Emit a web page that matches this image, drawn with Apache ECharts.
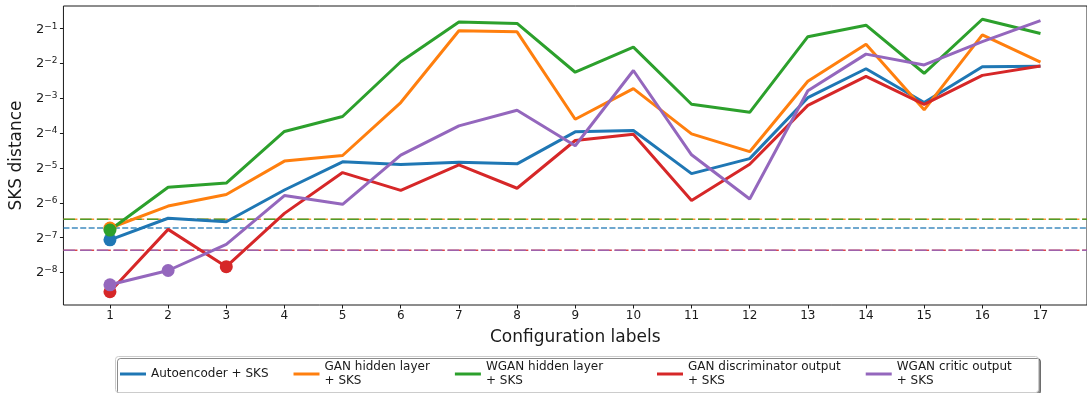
<!DOCTYPE html>
<html>
<head>
<meta charset="utf-8">
<script src="https://cdn.jsdelivr.net/npm/echarts@6/dist/echarts.min.js"></script>
<style>
  html, body { margin: 0; padding: 0; background: #fff; }
  #chart { width: 1087px; height: 393px; }
</style>
</head>
<body>
<div id="chart"></div>
<script>
// Configuration labels along the x axis
const configLabels = [1, 2, 3, 4, 5, 6, 7, 8, 9, 10, 11, 12, 13, 14, 15, 16, 17];

// SKS distance per configuration, one array per model
const autoencoderSKS = [0.007494, 0.011518, 0.010747, 0.020193, 0.035403, 0.033493, 0.035158, 0.03396, 0.064257, 0.066063, 0.02797, 0.037682, 0.126745, 0.225313, 0.115024, 0.23488, 0.236515];
const ganHiddenSKS = [0.009486, 0.01468, 0.018453, 0.035897, 0.040107, 0.115024, 0.47963, 0.46976, 0.082469, 0.151775, 0.061639, 0.043284, 0.175555, 0.36602, 0.099443, 0.44135, 0.257028];
const wganHiddenSKS = [0.009099, 0.021344, 0.023196, 0.064704, 0.087171, 0.258815, 0.57038, 0.55478, 0.210225, 0.346275, 0.111105, 0.094733, 0.42632, 0.53589, 0.205898, 0.60291, 0.45376];
const ganDiscSKS = [0.002668, 0.009226, 0.004395, 0.012691, 0.028557, 0.020053, 0.033261, 0.020905, 0.054033, 0.061214, 0.016402, 0.033725, 0.108819, 0.193445, 0.111105, 0.19751, 0.23816];
const wganCriticSKS = [0.003065, 0.004072, 0.006849, 0.018073, 0.015198, 0.040386, 0.072293, 0.098755, 0.048698, 0.217638, 0.040667, 0.016863, 0.14559, 0.301455, 0.243163, 0.38689, 0.58641];

// Reference levels (dashed horizontal lines)
const baselineAutoencoder = 0.009486;
const baselineGanHidden = 0.011281;
const baselineWganHidden = 0.011281;
const baselineGanDisc = 0.006087;
const baselineWganCritic = 0.006087;

const FONT = 'DejaVu Sans';
const INK = '#1a1a1a';
const X_MIN = 0.2;
const X_MAX = 17.8;

// tick labels as 2 with a raised exponent
function powLabel(v) {
  const e = Math.round(Math.log2(v));
  return '{b|2}{s|' + String(e).replace('-', '\u2212') + '}';
}

function dataSeries(name, values, baseline, color) {
  return {
    type: 'line',
    name: name,
    symbol: 'circle',
    symbolSize: 13,
    showSymbol: true,
    z: 3,
    data: values.map((v, i) => {
      const item = { value: [configLabels[i], v] };
      // points under the reference level get a dot
      if (!(v < baseline)) item.symbol = 'none';
      return item;
    }),
    lineStyle: { width: 3, color: color },
    itemStyle: { color: color, borderWidth: 0 },
    emphasis: { disabled: true }
  };
}

function levelSeries(level, color, dash) {
  return {
    type: 'line',
    name: 'level',
    symbol: 'none',
    silent: true,
    z: 2,
    data: [[X_MIN, level], [X_MAX, level]],
    lineStyle: { type: dash, width: 1.5, color: color, opacity: 0.85 },
    emphasis: { disabled: true }
  };
}

const names = [
  'Autoencoder + SKS',
  'GAN hidden layer\n+ SKS',
  'WGAN hidden layer\n+ SKS',
  'GAN discriminator output\n+ SKS',
  'WGAN critic output\n+ SKS'
];
const colors = ['#1f77b4', '#ff7f0e', '#2ca02c', '#d62728', '#9467bd'];

const legendCommon = {
  orient: 'horizontal',
  top: 360,
  padding: 0,
  itemGap: 25,
  itemWidth: 26,
  itemHeight: 3,
  icon: 'rect',
  textStyle: { fontFamily: FONT, fontSize: 12, color: INK, lineHeight: 14 },
  selectedMode: false
};

const chart = echarts.init(document.getElementById('chart'), null, { renderer: 'canvas' });
chart.setOption({
  animation: false,
  backgroundColor: '#fff',
  grid: {
    left: 61, top: 6, width: 1033, height: 299,
    show: true, borderColor: INK, borderWidth: 1, backgroundColor: 'transparent'
  },
  xAxis: {
    type: 'value',
    min: X_MIN,
    max: X_MAX,
    name: 'Configuration labels',
    nameLocation: 'middle',
    nameGap: 24,
    nameTextStyle: { fontFamily: FONT, fontSize: 17, color: INK },
    axisLine: { show: false },
    splitLine: { show: false },
    axisTick: { show: true, length: 3.5, inside: false, lineStyle: { color: INK }, customValues: configLabels },
    axisLabel: { fontFamily: FONT, fontSize: 12, color: INK, margin: 5, customValues: configLabels }
  },
  yAxis: {
    type: 'log',
    logBase: 2,
    min: 0.00205,
    max: 0.785,
    name: 'SKS distance',
    nameLocation: 'middle',
    nameGap: 31,
    nameTextStyle: { fontFamily: FONT, fontSize: 17, color: INK },
    axisLine: { show: false },
    splitLine: { show: false },
    minorTick: { show: false },
    axisTick: { show: true, length: 3.5, lineStyle: { color: INK } },
    axisLabel: {
      color: INK, margin: 6,
      showMinLabel: false, showMaxLabel: false,
      formatter: powLabel,
      rich: {
        b: { fontFamily: FONT, fontSize: 13, color: INK, verticalAlign: 'bottom' },
        s: { fontFamily: FONT, fontSize: 9, color: INK, verticalAlign: 'bottom', padding: [0, 0, 5, 0] }
      }
    }
  },
  legend: [
    Object.assign({ left: 120, data: [names[0], names[1], names[2]] }, legendCommon),
    Object.assign({ left: 657, data: [names[3], names[4]] }, legendCommon)
  ],
  graphic: [{
    type: 'rect',
    silent: true,
    z: -1,
    shape: { x: 115.5, y: 356.5, width: 923, height: 36, r: 3 },
    style: {
      fill: '#fff', stroke: '#cccccc', lineWidth: 1,
      shadowColor: 'rgba(0,0,0,0.45)', shadowOffsetX: 2, shadowOffsetY: 2, shadowBlur: 0
    }
  }],
  series: [
    levelSeries(baselineAutoencoder, colors[0], [6, 2.4]),
    levelSeries(baselineGanHidden, colors[1], [14, 2.7]),
    levelSeries(baselineWganHidden, colors[2], [11.5, 5.2]),
    levelSeries(baselineGanDisc, colors[3], [14, 2.7]),
    levelSeries(baselineWganCritic, colors[4], [11.5, 5.2]),
    dataSeries(names[0], autoencoderSKS, baselineAutoencoder, colors[0]),
    dataSeries(names[1], ganHiddenSKS, baselineGanHidden, colors[1]),
    dataSeries(names[2], wganHiddenSKS, baselineWganHidden, colors[2]),
    dataSeries(names[3], ganDiscSKS, baselineGanDisc, colors[3]),
    dataSeries(names[4], wganCriticSKS, baselineWganCritic, colors[4])
  ]
});
</script>
</body>
</html>
